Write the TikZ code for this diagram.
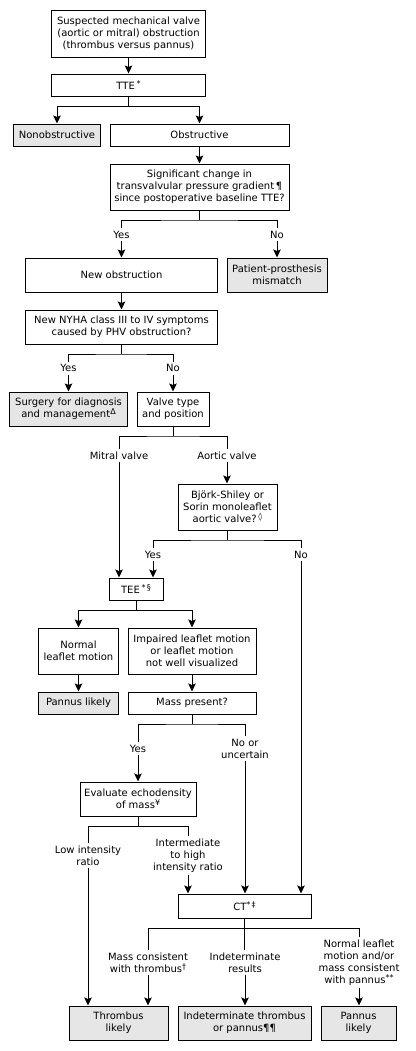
\documentclass[tikz,border=0pt]{standalone}
\usepackage{fontspec}
\setmainfont{DejaVu Sans}
\usetikzlibrary{arrows.meta}
\definecolor{boxgray}{HTML}{E6E6E6}
\newcommand\mysup[1]{\raisebox{2.8bp}{\fontsize{8bp}{9bp}\selectfont #1}}
\tikzset{
  box/.style={draw=black, line width=1bp, align=center, inner sep=0pt, font=\fontsize{10bp}{12bp}\selectfont},
  grey/.style={box, fill=boxgray},
  lbl/.style={align=center, inner sep=2.5bp, font=\fontsize{10bp}{12bp}\selectfont},
  ln/.style={line width=1bp},
  arr/.style={line width=1bp, -{Stealth[length=8bp,width=7.5bp,inset=1.5bp]}}
}
\begin{document}
\begin{tikzpicture}[x=1bp,y=-1bp]
\useasboundingbox (0,0) rectangle (415,1051);
% boxes
\node[box, minimum width=153bp, minimum height=47bp] (s1) at (128.5,33.5) {Suspected mechanical valve\\(aortic or mitral) obstruction\\(thrombus versus pannus)};
\node[box, minimum width=153bp, minimum height=22bp] (tte) at (128.5,85) {TTE\,\mysup{*}};
\node[grey, minimum width=86bp, minimum height=22bp] (nonob) at (57,135) {Nonobstructive};
\node[box, minimum width=179bp, minimum height=22bp] (obs) at (199.5,135) {Obstructive};
\node[box, minimum width=179bp, minimum height=46bp] (sig) at (199.5,187) {Significant change in\\transvalvular pressure gradient\,¶\\since postoperative baseline TTE?};
\node[box, minimum width=191bp, minimum height=34bp] (newob) at (121.5,275) {New obstruction};
\node[grey, minimum width=100bp, minimum height=34bp] (ppm) at (277,275) {Patient-prosthesis\\mismatch};
\node[box, minimum width=191bp, minimum height=34bp] (nyha) at (121.5,327) {New NYHA class III to IV symptoms\\caused by PHV obstruction?};
\node[grey, minimum width=117bp, minimum height=34bp] (surg) at (68.5,409) {Surgery for diagnosis\\and management\mysup{Δ}};
\node[box, minimum width=72bp, minimum height=34bp] (vtype) at (173,409) {Valve type\\and position};
\node[box, minimum width=99bp, minimum height=46bp] (bjork) at (227.5,507) {Björk-Shiley or\\Sorin monoleaflet\\aortic valve?\,\mysup{◊}};
\node[box, minimum width=54bp, minimum height=22bp] (tee) at (136,589) {TEE\,\mysup{*\,§}};
\node[box, minimum width=79bp, minimum height=46bp] (normal) at (78.5,651) {Normal\\leaflet motion};
\node[box, minimum width=128bp, minimum height=46bp] (impaired) at (192,651) {Impaired leaflet motion\\or leaflet motion\\not well visualized};
\node[grey, minimum width=79bp, minimum height=22bp] (pannusA) at (78.5,703) {Pannus likely};
\node[box, minimum width=128bp, minimum height=22bp] (mass) at (192,703) {Mass present?};
\node[box, minimum width=116bp, minimum height=34bp] (evalu) at (138,799) {Evaluate echodensity\\of mass\mysup{¥}};
\node[box, minimum width=133bp, minimum height=24bp] (ct) at (244.5,906) {CT\mysup{*\,‡}};
\node[grey, minimum width=99bp, minimum height=34bp] (thromb) at (118.5,1023) {Thrombus\\likely};
\node[grey, minimum width=133bp, minimum height=34bp] (indet) at (244.5,1023) {Indeterminate thrombus\\or pannus¶¶};
\node[grey, minimum width=75bp, minimum height=34bp] (pannusB) at (358.5,1023) {Pannus\\likely};
% labels
\node[lbl] (yesA) at (121.5,234.7) {Yes};
\node[lbl] (noA) at (277,234.7) {No};
\node[lbl] (yesB) at (68.5,368.3) {Yes};
\node[lbl] (noB) at (173,368.3) {No};
\node[lbl] (mitral) at (119,455.7) {Mitral valve};
\node[lbl] (aortic) at (227,455.7) {Aortic valve};
\node[lbl] (yesC) at (153,554.7) {Yes};
\node[lbl] (noC) at (301,554.7) {No};
\node[lbl] (yesD) at (138,748.7) {Yes};
\node[lbl] (noD) at (245,748.7) {No or\\uncertain};
\node[lbl] (low) at (88,855.7) {Low intensity\\ratio};
\node[lbl] (inter) at (188,855.5) {Intermediate\\to high\\intensity ratio};
\node[lbl] (mct) at (148,962.7) {Mass consistent\\with thrombus\mysup{†}};
\node[lbl] (indres) at (245,962.7) {Indeterminate\\results};
\node[lbl] (nlm) at (359,962.3) {Normal leaflet\\motion and/or\\mass consistent\\with pannus\mysup{**}};
% fork points
\coordinate (f1) at (128.5,106);
\coordinate (f2) at (199.5,220);
\coordinate (f3) at (121.5,354);
\coordinate (f4) at (173,436);
\coordinate (f5) at (227.5,540);
\coordinate (f6) at (136,610);
\coordinate (f7) at (192,724);
\coordinate (f8) at (138,826);
\coordinate (f9) at (244.5,928);
% connectors
\draw[arr] (s1.south) -- (tte.north);
\draw[ln] (tte.south) -- (f1);
\draw[arr] (f1) -| (nonob.north);
\draw[arr] (f1) -| (obs.north);
\draw[arr] (obs.south) -- (sig.north);
\draw[ln] (sig.south) -- (f2);
\draw[ln] (yesA.north) |- (f2) -| (noA.north);
\draw[arr] (yesA.south) -- (newob.north);
\draw[arr] (noA.south) -- (ppm.north);
\draw[arr] (newob.south) -- (nyha.north);
\draw[ln] (nyha.south) -- (f3);
\draw[ln] (yesB.north) |- (f3) -| (noB.north);
\draw[arr] (yesB.south) -- (surg.north);
\draw[arr] (noB.south) -- (vtype.north);
\draw[ln] (vtype.south) -- (f4);
\draw[ln] (mitral.north) |- (f4) -| (aortic.north);
\draw[arr] (mitral.south) -- (mitral.south |- tee.north);
\draw[arr] (aortic.south) -- (aortic.south |- bjork.north);
\draw[ln] (bjork.south) -- (f5);
\draw[ln] (yesC.north) |- (f5) -| (noC.north);
\draw[arr] (yesC.south) -- (yesC.south |- tee.north);
\draw[arr] (noC.south) -- (noC.south |- ct.north);
\draw[ln] (tee.south) -- (f6);
\draw[arr] (f6) -| (normal.north);
\draw[arr] (f6) -| (impaired.north);
\draw[arr] (normal.south) -- (pannusA.north);
\draw[arr] (impaired.south) -- (mass.north);
\draw[ln] (mass.south) -- (f7);
\draw[ln] (yesD.north) |- (f7) -| (noD.north);
\draw[arr] (yesD.south) -- (evalu.north);
\draw[arr] (noD.south) -- (noD.south |- ct.north);
\draw[ln] (evalu.south) -- (f8);
\draw[ln] (low.north) |- (f8) -| (inter.north);
\draw[arr] (low.south) -- (low.south |- thromb.north);
\draw[arr] (inter.south) -- (inter.south |- ct.north);
\draw[ln] (ct.south) -- (f9) -- (f9 |- indres.north);
\draw[ln] (mct.north) |- (f9) -| (nlm.north);
\draw[arr] (mct.south) -- (mct.south |- thromb.north);
\draw[arr] (indres.south) -- (indres.south |- indet.north);
\draw[arr] (nlm.south) -- (nlm.south |- pannusB.north);
\end{tikzpicture}
\end{document}
